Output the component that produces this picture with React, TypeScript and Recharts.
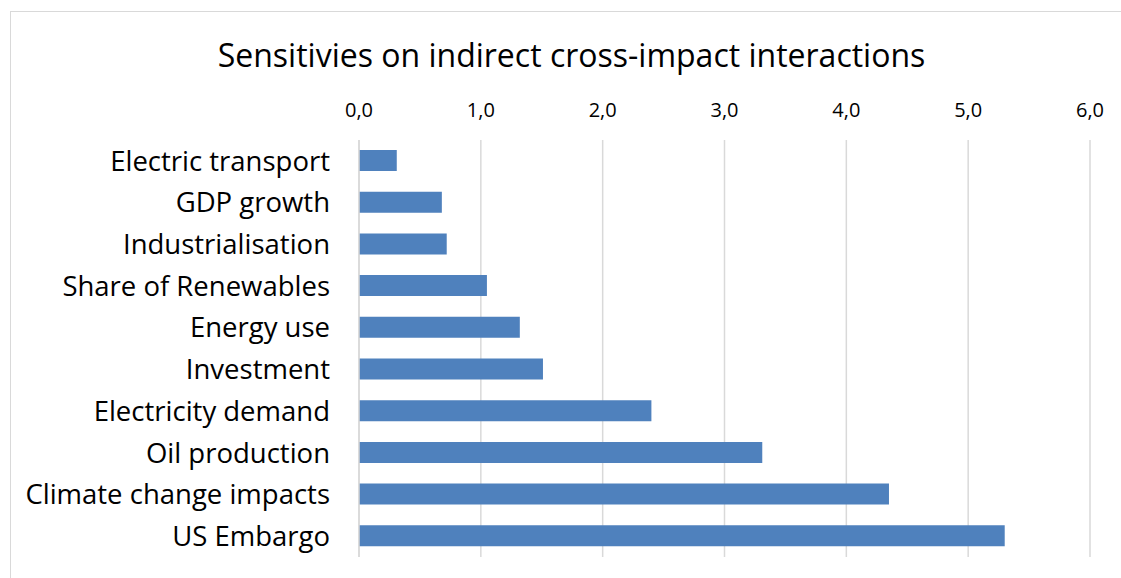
import React from 'react';
import { BarChart, Bar, XAxis, YAxis, CartesianGrid } from 'recharts';

const categories = [
	'Electric transport',
	'GDP growth',
	'Industrialisation',
	'Share of Renewables',
	'Energy use',
	'Investment',
	'Electricity demand',
	'Oil production',
	'Climate change impacts',
	'US Embargo',
];
const sensitivities = [0.31, 0.68, 0.72, 1.05, 1.32, 1.51, 2.4, 3.31, 4.35, 5.3];
const xTicks = [0, 1, 2, 3, 4, 5, 6];

const FONT = '"Open Sans", sans-serif';

const data = categories.map((name, i) => ({ name, value: sensitivities[i] }));

const App: React.FC = () => {
	return (
		<div
			style={{
				position: 'absolute',
				left: 10,
				top: 11,
				width: 1118,
				height: 570,
				border: '1px solid #d9d9d9',
				background: '#fff',
				fontFamily: FONT,
			}}
		>
			<div
				style={{
					position: 'absolute',
					left: 0,
					width: 1121,
					top: 21,
					textAlign: 'center',
					fontSize: 32,
					color: '#000',
				}}
			>
				Sensitivies on indirect cross-impact interactions
			</div>
			<BarChart
				width={1111}
				height={567}
				data={data}
				layout="vertical"
				margin={{ top: 98, right: 32, bottom: 22, left: 0 }}
				barSize={21}
			>
				<CartesianGrid horizontal={false} stroke="#d9d9d9" strokeWidth={1.5} />
				<XAxis
					type="number"
					orientation="top"
					domain={[0, 6]}
					ticks={xTicks}
					height={30}
					axisLine={false}
					tickLine={false}
					tickSize={6}
					tickMargin={17}
					tickFormatter={(v: number) => v.toFixed(1).replace('.', ',')}
					tick={{ fill: '#000', fontSize: 20, fontFamily: FONT }}
					interval={0}
				/>
				<YAxis
					type="category"
					dataKey="name"
					width={348}
					axisLine={{ stroke: '#d9d9d9', strokeWidth: 1.5 }}
					tickLine={false}
					tickSize={0}
					tickMargin={29}
					tick={{ fill: '#000', fontSize: 27.5, fontFamily: FONT }}
					interval={0}
				/>
				<Bar dataKey="value" fill="#4f81bd" isAnimationActive={false} />
			</BarChart>
		</div>
	);
};

export default App;
